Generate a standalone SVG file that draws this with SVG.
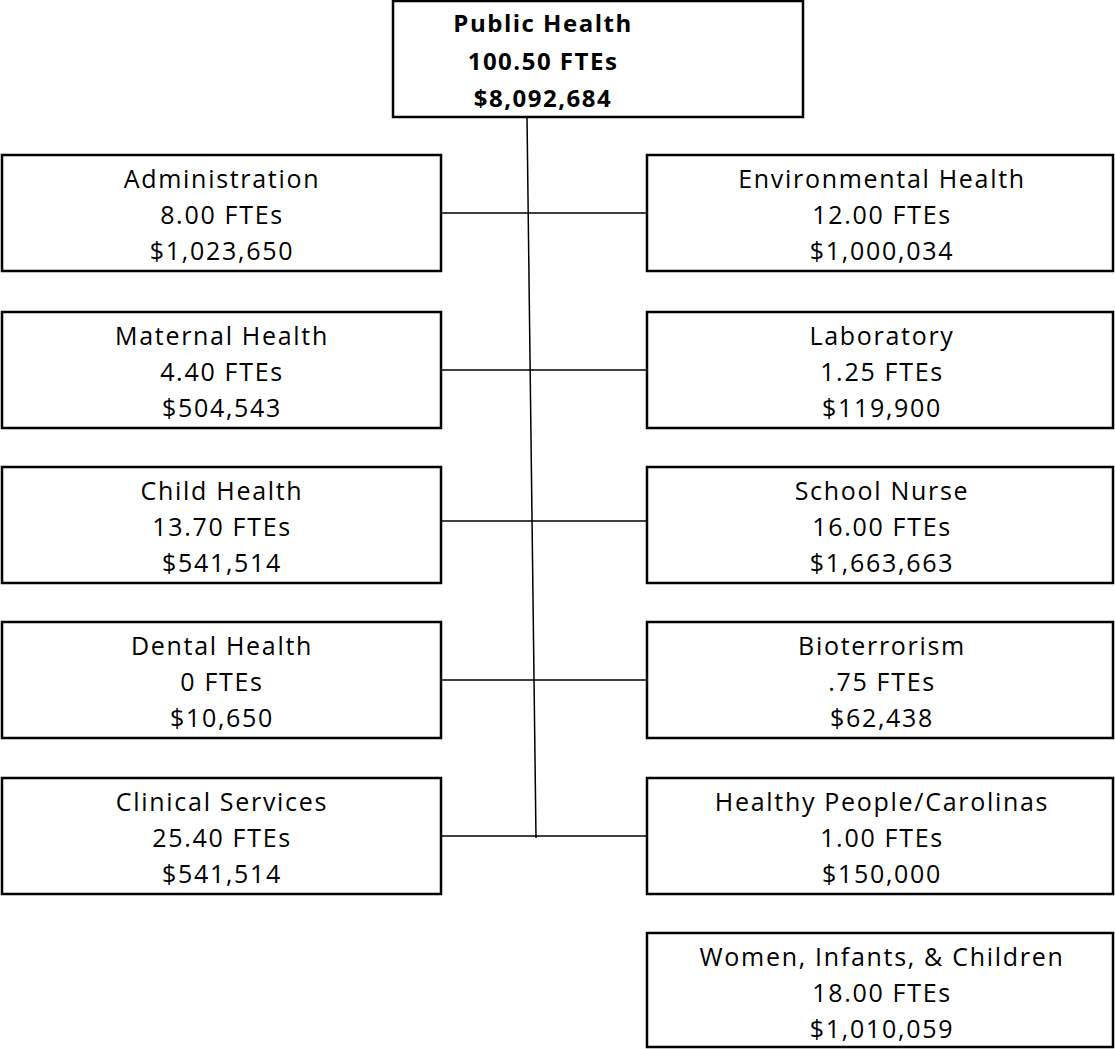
<svg xmlns="http://www.w3.org/2000/svg" width="1115" height="1049" viewBox="0 0 1115 1049">
<style>
.box{fill:#fff;stroke:#000;stroke-width:2.5}
.t{font-family:"Open Sans","Liberation Sans",sans-serif;font-size:25px;letter-spacing:1.7px;fill:#000;text-anchor:middle}
.b{font-weight:bold;font-size:24px;letter-spacing:1.5px}
.c{stroke:#000;stroke-width:1.5;fill:none}
</style>
<rect width="1115" height="1049" fill="#fff"/>
<g id="connectors">
<line class="c" x1="527" y1="117" x2="536" y2="838"/>
<line class="c" x1="441" y1="213" x2="647" y2="213"/>
<line class="c" x1="441" y1="370" x2="647" y2="370"/>
<line class="c" x1="441" y1="521" x2="647" y2="521"/>
<line class="c" x1="441" y1="680" x2="647" y2="680"/>
<line class="c" x1="441" y1="836" x2="647" y2="836"/>
</g>
<g id="public-health">
<rect class="box" x="393" y="1" width="410" height="116"/>
<text class="t b" x="543" y="32">Public Health</text>
<text class="t b" x="543" y="70">100.50 FTEs</text>
<text class="t b" x="543" y="107">$8,092,684</text>
</g>
<g id="administration">
<rect class="box" x="2" y="155" width="439" height="116"/>
<text class="t" x="222" y="188">Administration</text>
<text class="t" x="222" y="224">8.00 FTEs</text>
<text class="t" x="222" y="260">$1,023,650</text>
</g>
<g id="environmental-health">
<rect class="box" x="647" y="155" width="466" height="116"/>
<text class="t" x="882" y="188">Environmental Health</text>
<text class="t" x="882" y="224">12.00 FTEs</text>
<text class="t" x="882" y="260">$1,000,034</text>
</g>
<g id="maternal-health">
<rect class="box" x="2" y="312" width="439" height="116"/>
<text class="t" x="222" y="345">Maternal Health</text>
<text class="t" x="222" y="381">4.40 FTEs</text>
<text class="t" x="222" y="417">$504,543</text>
</g>
<g id="laboratory">
<rect class="box" x="647" y="312" width="466" height="116"/>
<text class="t" x="882" y="345">Laboratory</text>
<text class="t" x="882" y="381">1.25 FTEs</text>
<text class="t" x="882" y="417">$119,900</text>
</g>
<g id="child-health">
<rect class="box" x="2" y="467" width="439" height="116"/>
<text class="t" x="222" y="500">Child Health</text>
<text class="t" x="222" y="536">13.70 FTEs</text>
<text class="t" x="222" y="572">$541,514</text>
</g>
<g id="school-nurse">
<rect class="box" x="647" y="467" width="466" height="116"/>
<text class="t" x="882" y="500">School Nurse</text>
<text class="t" x="882" y="536">16.00 FTEs</text>
<text class="t" x="882" y="572">$1,663,663</text>
</g>
<g id="dental-health">
<rect class="box" x="2" y="622" width="439" height="116"/>
<text class="t" x="222" y="655">Dental Health</text>
<text class="t" x="222" y="691">0 FTEs</text>
<text class="t" x="222" y="727">$10,650</text>
</g>
<g id="bioterrorism">
<rect class="box" x="647" y="622" width="466" height="116"/>
<text class="t" x="882" y="655">Bioterrorism</text>
<text class="t" x="882" y="691">.75 FTEs</text>
<text class="t" x="882" y="727">$62,438</text>
</g>
<g id="clinical-services">
<rect class="box" x="2" y="778" width="439" height="116"/>
<text class="t" x="222" y="811">Clinical Services</text>
<text class="t" x="222" y="847">25.40 FTEs</text>
<text class="t" x="222" y="883">$541,514</text>
</g>
<g id="healthy-people-carolinas">
<rect class="box" x="647" y="778" width="466" height="116"/>
<text class="t" x="882" y="811">Healthy People/Carolinas</text>
<text class="t" x="882" y="847">1.00 FTEs</text>
<text class="t" x="882" y="883">$150,000</text>
</g>
<g id="women-infants-children">
<rect class="box" x="647" y="933" width="466" height="114"/>
<text class="t" x="882" y="966">Women, Infants, &amp; Children</text>
<text class="t" x="882" y="1002">18.00 FTEs</text>
<text class="t" x="882" y="1038">$1,010,059</text>
</g>
</svg>
